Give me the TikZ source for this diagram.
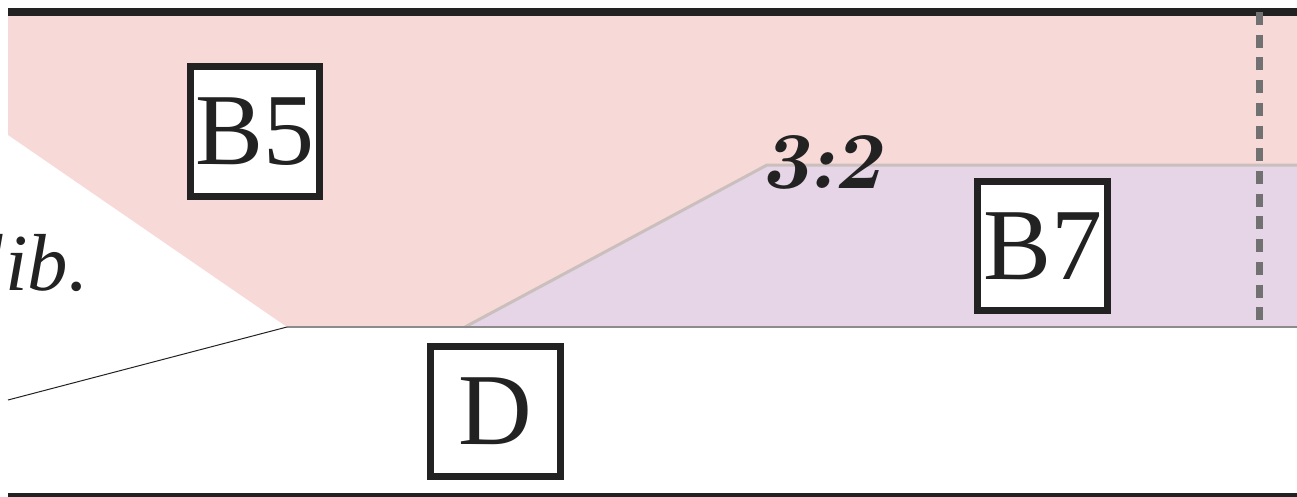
\documentclass[tikz,border=0pt]{standalone}
\usepackage{fontspec}
\usepackage{xcolor}
\usetikzlibrary{positioning}
\newfontfamily\timesfont{Liberation Serif}
\definecolor{rosefill}{HTML}{F7DAD8}
\definecolor{lilacfill}{HTML}{E5D5E6}
\definecolor{seamgray}{HTML}{CBBFBD}
\definecolor{rulegray}{HTML}{8C8C8C}
\definecolor{dashgray}{HTML}{717171}
\definecolor{inkblack}{HTML}{222222}

\begin{document}
\begin{tikzpicture}[x=0.01cm, y=-0.01cm,
    labelbox/.style={draw=inkblack, line width=0.07cm, fill=white, minimum size=1.29cm,
        inner sep=0pt, text=inkblack, font=\timesfont\fontsize{29}{29}\selectfont},
    ratiotext/.style={text=inkblack, inner sep=0pt, font=\fontsize{23}{23}\selectfont\bfseries\slshape},
    sidenote/.style={text=inkblack, inner sep=0pt, font=\timesfont\itshape\fontsize{23}{23}\selectfont},
    heavyrule/.style={inkblack, line width=0.08cm}]
    \useasboundingbox (0,0) rectangle (1297,497);

    \fill[rosefill] (8,16) -- (1297,16) -- (1297,327) -- (287,327) -- (8,135) -- cycle;
    \fill[lilacfill] (465,327) -- (767,165) -- (1297,165) -- (1297,327) -- cycle;
    \draw[seamgray, line width=0.03cm] (465,327) -- (767,165) -- (1297,165);
    \draw[rulegray, line width=0.02cm] (287,327) -- (1297,327);
    \draw[inkblack, line width=0.01cm] (8,400) -- (287,327);

    \draw[heavyrule] (8,12) -- (1297,12);
    \draw[heavyrule] (8,497) -- (1297,497);
    \draw[dashgray, line width=0.07cm, dash pattern=on 0.13cm off 0.097cm] (1259,12) -- (1259,326);

    \node[labelbox] (b5) at (255,131.5) {B5};
    \node[labelbox] (b7) at (1042.5,246) {B7};
    \node[labelbox] (d) at (495.5,411.5) {D};
    \node[ratiotext, anchor=base] (ratio) at (822,188) {3:2};
    \node[sidenote, anchor=base east] (calib) at (89,290) {Calib.};
\end{tikzpicture}
\end{document}
